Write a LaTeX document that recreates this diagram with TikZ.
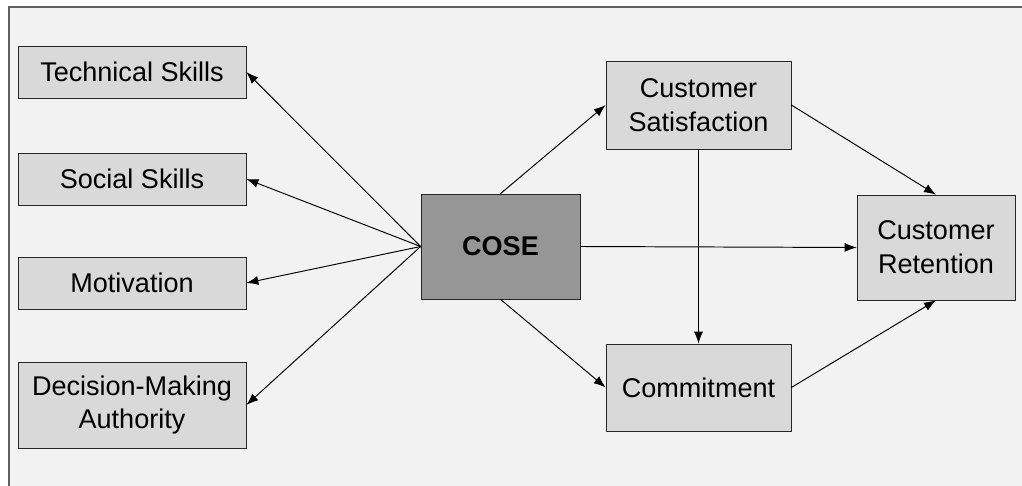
\documentclass[tikz,border=0pt]{standalone}
\usepackage{fontspec}
\setmainfont{Liberation Sans}
\usetikzlibrary{arrows.meta,positioning}
\definecolor{bggray}{HTML}{F2F2F2}
\definecolor{boxgray}{HTML}{D9D9D9}
\definecolor{darkbox}{HTML}{969696}
\definecolor{framegray}{HTML}{606060}
\tikzset{
  box/.style={draw=black!85,fill=boxgray,align=center,inner sep=0pt,
    font=\fontsize{15.4}{19.3}\selectfont},
  link/.style={-{Latex[length=2.4mm,width=1.8mm]},line width=0.55pt}
}
\begin{document}
\begin{tikzpicture}[x=0.02cm,y=-0.02cm]
\useasboundingbox (0,0) rectangle (1022,486);
\fill[bggray] (9,7) rectangle (1022,486);
\draw[framegray,line width=1.2pt] (9,486) -- (9,7) -- (1022,7);
% left column
\node[box,minimum width=228*0.02cm,minimum height=52*0.02cm] (tech) at (132,72) {Technical Skills};
\node[box,minimum width=228*0.02cm,minimum height=52*0.02cm] (social) at (132,179) {Social Skills};
\node[box,minimum width=228*0.02cm,minimum height=52*0.02cm] (motiv) at (132,283) {Motivation};
\node[box,minimum width=228*0.02cm,minimum height=86*0.02cm] (decis) at (132,405) {Decision-Making\\Authority};
% centre
\node[box,fill=darkbox,font=\fontsize{15.4}{19.3}\selectfont\bfseries,minimum width=159*0.02cm,minimum height=105*0.02cm] (cose) at (500.5,246.5) {COSE};
% right
\node[box,minimum width=185*0.02cm,minimum height=88*0.02cm] (satis) at (698.5,105) {Customer\\Satisfaction};
\node[box,minimum width=185*0.02cm,minimum height=87*0.02cm] (commit) at (698.5,387.5) {Commitment};
\node[box,minimum width=158*0.02cm,minimum height=105*0.02cm] (retent) at (936,247.5) {Customer\\Retention};
% arrows
\coordinate (cw) at (cose.west);
\foreach \t in {tech,social,motiv,decis}
  \draw[link] (cw) -- (\t.east);
\draw[link] (cose.north) -- (satis.west);
\draw[link] (cose.south) -- (commit.west);
\draw[link] (cose.east) -- (retent.west);
\draw[link] (satis.south) -- (commit.north);
\draw[link] (satis.east) -- (retent.north);
\draw[link] (commit.east) -- (retent.south);
\end{tikzpicture}
\end{document}
